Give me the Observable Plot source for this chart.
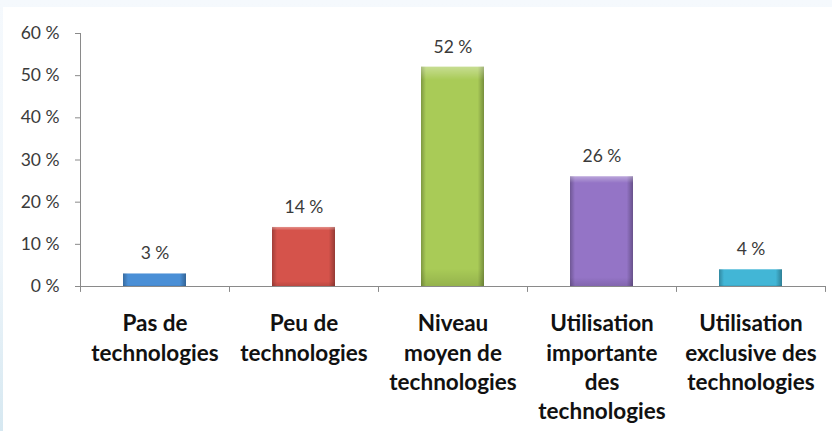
<!DOCTYPE html>
<html>
<head>
<meta charset="utf-8">
<script src="https://cdn.jsdelivr.net/npm/d3@7"></script>
<script src="https://cdn.jsdelivr.net/npm/@observablehq/plot@0.6"></script>
<style>
  html, body { margin: 0; padding: 0; }
  body { width: 832px; height: 431px; overflow: hidden;
    background: linear-gradient(to bottom, #f5f9fd 0%, #eef5fa 60%, #d6e8f1 100%); }
  #wrap { position: absolute; left: 3px; top: 7px; width: 829px; height: 424px; background: #fff; }
  svg { display: block; }
</style>
</head>
<body>
<div id="wrap"></div>
<script>
const categories = ["Pas de technologies", "Peu de technologies", "Niveau moyen de technologies", "Utilisation importante des technologies", "Utilisation exclusive des technologies"];
const labels = ["Pas de\ntechnologies", "Peu de\ntechnologies", "Niveau\nmoyen de\ntechnologies", "Utilisation\nimportante\ndes\ntechnologies", "Utilisation\nexclusive des\ntechnologies"];
const values = [3, 14, 52, 26, 4];
const colors = ["#4a8fd6", "#d5534b", "#a9cb57", "#9474c6", "#42b6d6"];
const yTicks = [0, 10, 20, 30, 40, 50, 60];

const data = categories.map((c, i) => ({cat: c, label: labels[i], value: values[i], color: colors[i]}));

const W = 829, H = 424, mL = 77, mR = 7, mT = 26, mB = 145;
const half = (W - mL - mR) / categories.length / 2;
const font = "Lato, 'Open Sans', sans-serif";

const chart = Plot.plot({
  width: W, height: H,
  marginLeft: mL, marginRight: mR, marginTop: mT, marginBottom: mB,
  style: {fontFamily: font, background: "white", color: "#333"},
  x: {domain: categories, paddingInner: 0.58, paddingOuter: 0.29, axis: null},
  y: {domain: [0, 60], axis: null},
  color: {type: "identity"},
  marks: [
    Plot.axisY(yTicks, {label: null, tickSize: 5, tickPadding: 16, stroke: "#8a8a8a", fontSize: 17.5, fill: "#3a3a3a", tickFormat: d => d + " %"}),
    Plot.ruleX([categories[0]], {dx: -half, y1: -1.4, y2: 60, stroke: "#8a8a8a"}),
    Plot.ruleX(categories, {dx: half, y1: -1.4, y2: 0, stroke: "#8a8a8a"}),
    Plot.ruleY([0], {stroke: "#8a8a8a"}),
    Plot.barY(data, {x: "cat", y: "value", fill: "color"}),
    Plot.barY(data, {x: "cat", y: "value", fill: "url(#shadeH)"}),
    Plot.barY(data, {x: "cat", y: "value", fill: "url(#shadeV)"}),
    Plot.text(data, {x: "cat", y: "value", text: d => d.value + " %", dy: -20, fontSize: 17.5, fill: "#3a3a3a"}),
    Plot.text(data, {x: "cat", y: 0, text: "label", dy: 24, lineAnchor: "top", lineHeight: 1.3, fontSize: 22.5, fontWeight: "bold", fill: "#111"})
  ]
});

const svg = d3.select(chart);
const defs = svg.insert("defs", ":first-child");
const gh = defs.append("linearGradient").attr("id", "shadeH").attr("x1", 0).attr("x2", 1).attr("y1", 0).attr("y2", 0);
gh.append("stop").attr("offset", "0%").attr("stop-color", "#000").attr("stop-opacity", 0.25);
gh.append("stop").attr("offset", "8%").attr("stop-color", "#000").attr("stop-opacity", 0.0);
gh.append("stop").attr("offset", "90%").attr("stop-color", "#000").attr("stop-opacity", 0.0);
gh.append("stop").attr("offset", "100%").attr("stop-color", "#000").attr("stop-opacity", 0.3);
const gv = defs.append("linearGradient").attr("id", "shadeV").attr("x1", 0).attr("x2", 0).attr("y1", 0).attr("y2", 1);
gv.append("stop").attr("offset", "0%").attr("stop-color", "#fff").attr("stop-opacity", 0.35);
gv.append("stop").attr("offset", "6%").attr("stop-color", "#fff").attr("stop-opacity", 0.0);
gv.append("stop").attr("offset", "92%").attr("stop-color", "#000").attr("stop-opacity", 0.0);
gv.append("stop").attr("offset", "100%").attr("stop-color", "#000").attr("stop-opacity", 0.12);

document.getElementById("wrap").appendChild(chart);
</script>
</body>
</html>
